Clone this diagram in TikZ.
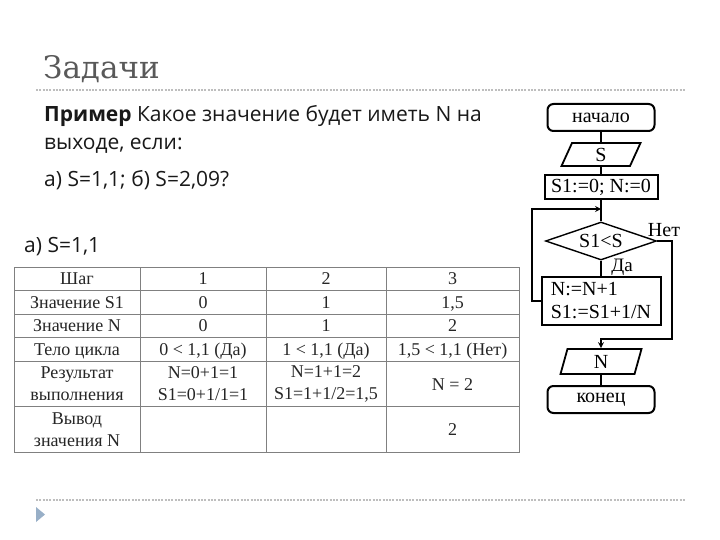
\documentclass[tikz,border=0pt]{standalone}
\usepackage{fontspec}
\setmainfont{Liberation Serif}
\newfontfamily\gillfont{Open Sans}
\newfontfamily\titlefont{DejaVu Serif}
\usepackage{xcolor}
\usetikzlibrary{shapes.geometric, arrows, positioning, calc}
\definecolor{titlegray}{RGB}{89,89,89}
\definecolor{rulegray}{RGB}{190,190,190}
\definecolor{gridgray}{RGB}{128,128,128}
\definecolor{bulletblue}{RGB}{152,175,199}
\definecolor{textblack}{RGB}{25,25,25}

\begin{document}
\begin{tikzpicture}[x=1pt, y=-1pt, inner sep=0pt]
  % Styles
  \tikzstyle{terminal} = [rectangle, rounded corners=6pt, draw, line width=2pt, minimum width=107pt, minimum height=27pt, font=\fontsize{20}{23}\selectfont]
  \tikzstyle{io} = [trapezium, trapezium stretches body, draw, line width=1.8pt, font=\fontsize{20}{23}\selectfont]
  \tikzstyle{process} = [rectangle, draw, line width=2pt, font=\fontsize{20}{23}\selectfont]
  \tikzstyle{decision} = [diamond, aspect=3, draw, line width=1.4pt, minimum width=111pt, minimum height=38pt, font=\fontsize{20}{23}\selectfont]
  \tikzstyle{line} = [line width=1.6pt]
  \tikzstyle{arrow} = [line width=1.6pt, ->, >=stealth]
  \tikzstyle{slide} = [anchor=base west, text=textblack, font=\gillfont\fontsize{21}{25}\selectfont]
  \tikzstyle{cell} = [anchor=base, text=black!85, font=\fontsize{18}{22}\selectfont]
  \tikzstyle{cell2} = [align=center, text=black!85, font=\fontsize{18}{22}\selectfont]
  \tikzstyle{rule} = [rulegray, line width=1.3pt, dash pattern=on 2pt off 1.3pt]

  \fill[white] (0,0) rectangle (720,540);
  \useasboundingbox (0,0) rectangle (720,540);

  % Title and rules
  \node (title) [anchor=base west, text=titlegray, font=\titlefont\fontsize{31}{34}\selectfont] at (43,79) {Задачи};
  \draw[rule] (36,90) -- (686,90);
  \draw[rule] (36,500) -- (686,500);
  \fill[bulletblue] (36,507) -- (45,514.5) -- (36,522) -- cycle;

  % Task text
  \node (task1) [slide] at (44,122) {\textbf{Пример} Какое значение будет иметь N на};
  \node (task2) [slide] at (44,150) {выходе, если:};
  \node (task3) [slide] at (44,187) {а) S=1,1; б) S=2,09?};
  \node (casea) [slide] at (24,252) {а) S=1,1};

  % Trace table
  \draw[gridgray, line width=1pt] (14,267) rectangle (519,452);
  \foreach \y in {290,314,337,361,406}
    \draw[gridgray, line width=1pt] (14,\y) -- (519,\y);
  \foreach \x in {140,266,386}
    \draw[gridgray, line width=1pt] (\x,267) -- (\x,452);

  \node (h0) [cell] at (77,284.5) {Шаг};
  \node (h1) [cell] at (203,284.5) {1};
  \node (h2) [cell] at (326,284.5) {2};
  \node (h3) [cell] at (452.5,284.5) {3};
  \node (s0) [cell] at (77,308) {Значение S1};
  \node (s1) [cell] at (203,308) {0};
  \node (s2) [cell] at (326,308) {1};
  \node (s3) [cell] at (452.5,308) {1,5};
  \node (n0) [cell] at (77,331.5) {Значение N};
  \node (n1) [cell] at (203,331.5) {0};
  \node (n2) [cell] at (326,331.5) {1};
  \node (n3) [cell] at (452.5,331.5) {2};
  \node (b0) [cell] at (77,355) {Тело цикла};
  \node (b1) [cell] at (203,355) {0 < 1,1 (Да)};
  \node (b2) [cell] at (326,355) {1 < 1,1 (Да)};
  \node (b3) [cell] at (452.5,355) {1,5 < 1,1 (Нет)};
  \node (r0) [cell2] at (77,384) {Результат\\выполнения};
  \node (r1) [cell2] at (203,384) {N=0+1=1\\S1=0+1/1=1};
  \node (r2) [cell2] at (326,384) {N=1+1=2\\S1=1+1/2=1,5};
  \node (r3) [cell] at (452.5,390) {N = 2};
  \node (o0) [cell2] at (77,430) {Вывод\\значения N};
  \node (o3) [cell] at (452.5,435) {2};

  % Flowchart
  \node (start) [terminal] at (601,117.5) {начало};
  \node (inS) [io, trapezium left angle=52, trapezium right angle=128, minimum width=79pt, minimum height=23pt] at (601,154.5) {S};
  \node (init) [process, minimum width=113pt, minimum height=24pt] at (601,187) {S1:=0; N:=0};
  \coordinate (join) at (601,209);
  \node (cond) [decision] at (601,241) {S1<S};
  \node (body) [process, minimum width=119pt, minimum height=48pt, align=left] at (601,301) {N:=N+1\\S1:=S1+1/N};
  \node (outN) [io, trapezium left angle=62, trapezium right angle=118, minimum width=81pt, minimum height=25pt] at (601,361.5) {N};
  \node (stop) [terminal] at (601,399.5) {конец};

  \coordinate (loopL) at (532,209);
  \coordinate (noR) at (672,241);
  \coordinate (noB) at (601,339);

  % Connections
  \draw [line] (start) -- (inS);
  \draw [line] (inS) -- (init);
  \draw [line] (init) -- (cond);
  \draw [line] (cond) -- (body);
  \draw [arrow] (body.west) -| (loopL) -- (join);
  \draw [arrow] (cond.east) -- (noR) |- (noB) -- (outN.north);
  \draw [line] (outN) -- (stop);

  % Branch labels
  \node (no) [font=\fontsize{20}{23}\selectfont] at (664,230) {Нет};
  \node (yes) [font=\fontsize{19}{22}\selectfont] at (622,267) {Да};
\end{tikzpicture}
\end{document}
